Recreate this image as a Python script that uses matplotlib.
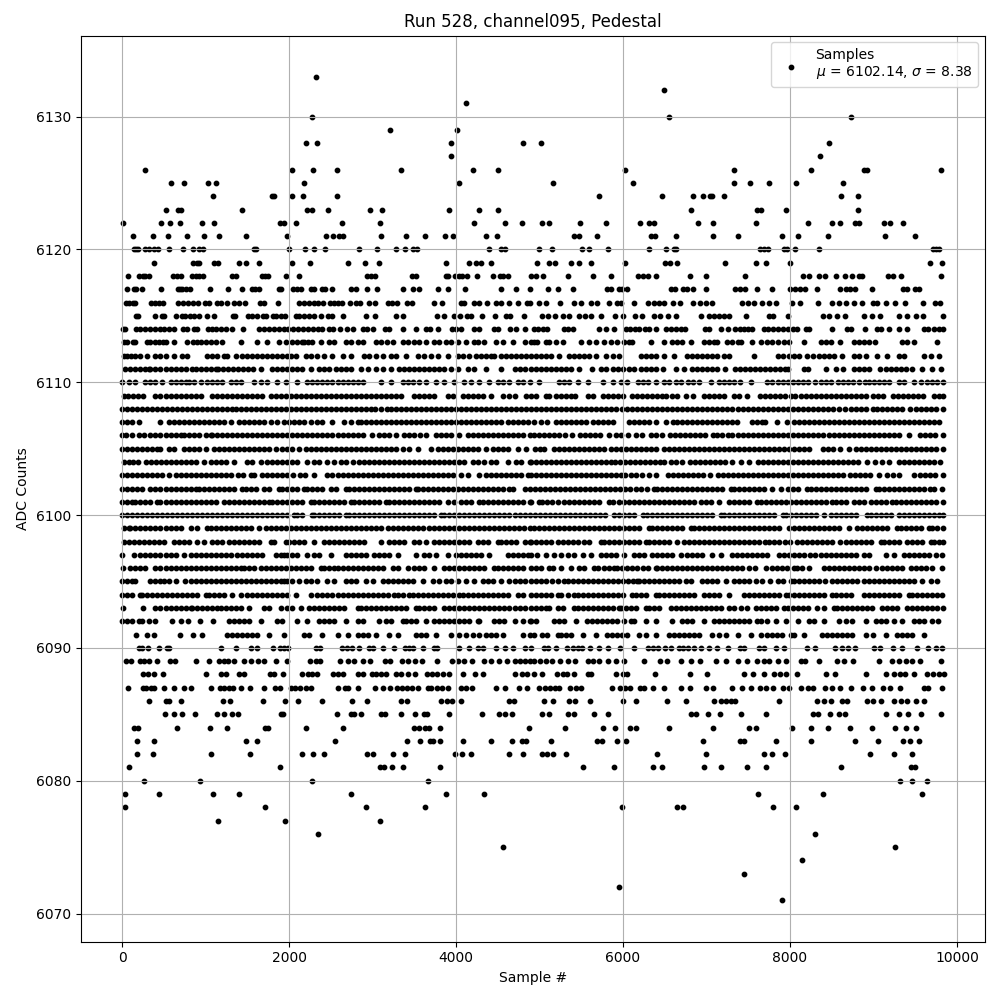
import matplotlib
matplotlib.use("Agg")
import matplotlib.pyplot as plt

s6133 = [2324]
s6132 = [6491]
s6131 = [4124]
s6130 = [2276, 6551, 8729]
s6129 = [3212, 4016]
s6128 = [2204, 2340, 3944, 4796, 5019, 8466]
s6127 = [3944, 8358]
s6126 = [272, 2036, 2288, 2576, 3344, 4208, 4508, 6024, 7329, 8251, 8885, 8921, 9807]
s6125 = [584, 740, 1028, 1124, 2180, 4040, 5162, 6120, 7329, 7520, 7748, 8071, 8634]
s6124 = [1088, 1800, 1820, 2036, 2168, 2576, 5713, 6467, 6838, 6958, 7042, 7065, 7209, 8610, 8813]
s6123 = [524, 668, 700, 1436, 2216, 2276, 2468, 2972, 3116, 3920, 4280, 4508, 6814, 7604, 7652, 7951, 8813]
s6122 = [8, 464, 572, 692, 956, 1100, 1892, 1940, 2084, 2636, 3092, 4220, 4592, 4784, 5031, 5114, 5485, 5797, 6204, 6311, 6371, 6898, 7078, 7592, 8215, 8502, 8598, 8777, 8825, 9124, 9196, 9352]
s6121 = [128, 368, 548, 776, 980, 1160, 1484, 1976, 2444, 2528, 2600, 2648, 3104, 3404, 3632, 3872, 3968, 4364, 4496, 5414, 5474, 5689, 6335, 6383, 6635, 7078, 7377, 7903, 8095, 8454, 9136, 9495]
s6120 = [140, 164, 188, 272, 320, 380, 428, 560, 728, 848, 920, 968, 1580, 1604, 2000, 2192, 2300, 2432, 2840, 3056, 3284, 3392, 3488, 3536, 4400, 4544, 4592, 4995, 5150, 5509, 5593, 5821, 6311, 6515, 6611, 6635, 7640, 7688, 7736, 7927, 7963, 8059, 8346, 9711, 9747, 9783]
s6119 = [380, 848, 896, 920, 1100, 1148, 1400, 1484, 1640, 2036, 2252, 2708, 2912, 3080, 3884, 4160, 4244, 4304, 4424, 4971, 5114, 5186, 5378, 5474, 5617, 6024, 6503, 6563, 6647, 7221, 7592, 7712, 7999, 9675, 9819]
s6118 = [68, 200, 248, 272, 320, 608, 656, 704, 836, 884, 920, 968, 1316, 1364, 1676, 1712, 1748, 1964, 2120, 2936, 2984, 3032, 3476, 3524, 3884, 3908, 3992, 4040, 4076, 4136, 4256, 4448, 4532, 4568, 4628, 4892, 4955, 5043, 5342, 5641, 5857, 6180, 6240, 6300, 6395, 6802, 6994, 7461, 8155, 8227, 8346, 8418, 8550, 8658, 8741, 8825, 8861, 9172, 9232, 9328, 9807]
s6117 = [56, 140, 164, 244, 464, 668, 692, 716, 764, 812, 1052, 1268, 1436, 1556, 1592, 1640, 1880, 1904, 2048, 2096, 2144, 2264, 2300, 2396, 2432, 2516, 2744, 2804, 2936, 3056, 3368, 3488, 3560, 3788, 3908, 4112, 4544, 4712, 4880, 5102, 5222, 5402, 5809, 5857, 5952, 5988, 6048, 6575, 6623, 6719, 6766, 6838, 6994, 7341, 7401, 7461, 7604, 7784, 7999, 8059, 8119, 8179, 8322, 8598, 8670, 8717, 8777, 8981, 9352, 9400, 9495, 9543]
s6116 = [44, 80, 128, 152, 344, 392, 440, 488, 668, 728, 788, 848, 908, 992, 1040, 1136, 1184, 1256, 1340, 1400, 1472, 1652, 1700, 1868, 2120, 2180, 2240, 2300, 2348, 2408, 2492, 2540, 2588, 2636, 2732, 2804, 2852, 2960, 3032, 3188, 3236, 3296, 3416, 3476, 3740, 3836, 4064, 4100, 4220, 4280, 4376, 4484, 4544, 4640, 4736, 4844, 4880, 4995, 5079, 5246, 5414, 5498, 5617, 5689, 5833, 5928, 5976, 6132, 6300, 6371, 6431, 6491, 6599, 6683, 6838, 6922, 6994, 7066, 7425, 7496, 7568, 7664, 7748, 7832, 8023, 8119, 8334, 8502, 8586, 8670, 8766, 8861, 8993, 9041, 9148, 9256, 9376, 9591, 9735, 9795]
s6115 = [164, 188, 392, 476, 500, 644, 716, 752, 812, 860, 920, 1016, 1100, 1328, 1352, 1508, 1556, 1616, 1688, 1724, 1808, 1844, 1904, 1952, 2084, 2120, 2180, 2240, 2300, 2384, 2468, 2516, 2648, 2924, 3032, 3284, 3368, 3776, 3860, 3980, 4052, 4136, 4184, 4316, 4472, 4604, 4652, 4808, 5031, 5102, 5186, 5282, 5354, 5474, 5545, 5617, 5737, 5904, 6000, 6144, 6228, 6371, 6443, 6539, 6635, 6934, 7030, 7090, 7150, 7210, 7270, 7473, 7748, 7796, 7975, 8394, 8466, 8562, 8658, 8885, 8981, 9077, 9304, 9400, 9507, 9591, 9831]
s6114 = [10, 40, 170, 220, 270, 340, 400, 460, 500, 560, 620, 730, 780, 860, 900, 1030, 1080, 1130, 1190, 1240, 1320, 1450, 1640, 1700, 1760, 1820, 1880, 1940, 1990, 2050, 2110, 2170, 2230, 2290, 2350, 2400, 2480, 2530, 2610, 2690, 2760, 2880, 2930, 3000, 3150, 3200, 3360, 3520, 3640, 3690, 3780, 3950, 4000, 4060, 4220, 4270, 4450, 4500, 4650, 4720, 4820, 4930, 4980, 5040, 5090, 5290, 5340, 5400, 5710, 5800, 5890, 6030, 6080, 6140, 6190, 6260, 6310, 6400, 6510, 6570, 6640, 6700, 6740, 6980, 7030, 7170, 7260, 7340, 7400, 7450, 7500, 7550, 7690, 7740, 7800, 7860, 7920, 7980, 8040, 8080, 8190, 8230, 8500, 8680, 8730, 8900, 9040, 9090, 9190, 9300, 9400, 9600, 9650, 9720, 9780, 9830]
s6113 = [20, 60, 130, 160, 300, 340, 400, 440, 490, 530, 620, 780, 850, 900, 950, 1010, 1070, 1130, 1200, 1430, 1620, 1730, 1880, 1960, 2040, 2100, 2160, 2180, 2230, 2280, 2380, 2480, 2540, 2680, 2740, 2820, 2880, 3040, 3100, 3170, 3240, 3360, 3430, 3500, 3560, 3640, 3740, 3800, 3880, 3940, 4020, 4120, 4220, 4260, 4340, 4480, 4560, 4680, 4820, 4900, 4935, 4975, 5075, 5115, 5195, 5275, 5494, 5593, 5673, 5773, 5853, 5933, 6012, 6072, 6112, 6331, 6491, 6591, 6651, 6711, 6810, 6970, 7030, 7090, 7130, 7250, 7310, 7380, 7410, 7550, 7650, 7730, 7790, 7850, 7930, 7990, 8165, 8370, 8430, 8490, 8600, 8765, 8825, 8885, 8945, 9015, 9345, 9405, 9485, 9760]
s6112 = [20, 60, 110, 160, 210, 300, 400, 460, 520, 620, 720, 780, 1020, 1080, 1140, 1220, 1260, 1360, 1440, 1500, 1560, 1620, 1680, 1740, 1800, 1860, 1920, 1980, 2020, 2080, 2200, 2260, 2340, 2420, 2520, 2640, 2740, 2900, 2960, 3040, 3120, 3220, 3280, 3400, 3540, 3620, 3700, 3780, 3900, 4020, 4080, 4160, 4240, 4300, 4360, 4420, 4460, 4540, 4600, 4660, 4720, 4780, 4840, 4895, 4960, 5015, 5075, 5135, 5235, 5355, 5415, 5475, 5535, 5595, 5675, 5795, 5875, 5955, 6210, 6270, 6330, 6390, 6490, 6610, 6770, 6830, 6890, 6950, 7000, 7060, 7120, 7215, 7275, 7565, 7850, 7910, 7990, 8050, 8110, 8205, 8280, 8345, 8405, 8465, 8525, 8625, 8765, 8825, 8905, 9045, 9165, 9305, 9365, 9605, 9685, 9785]
s6111 = [30, 90, 150, 210, 270, 320, 340, 400, 460, 520, 580, 640, 700, 760, 840, 880, 940, 1000, 1060, 1120, 1150, 1210, 1270, 1330, 1390, 1450, 1510, 1570, 1660, 1800, 1860, 1920, 1980, 2040, 2100, 2160, 2260, 2360, 2420, 2480, 2560, 2620, 2680, 2740, 2860, 2940, 3040, 3120, 3220, 3320, 3380, 3440, 3500, 3560, 3620, 3680, 3740, 3800, 3860, 3940, 4020, 4140, 4220, 4360, 4540, 4700, 4760, 4820, 4900, 4955, 5015, 5075, 5135, 5195, 5255, 5315, 5375, 5475, 5625, 5735, 5795, 5875, 5935, 5995, 6075, 6135, 6215, 6275, 6335, 6395, 6475, 6630, 6735, 6830, 6890, 6950, 7010, 7070, 7130, 7220, 7340, 7400, 7460, 7520, 7580, 7640, 7700, 7760, 7820, 7880, 7940, 7980, 8170, 8220, 8425, 8545, 8635, 8765, 8825, 8885, 8945, 9075, 9145, 9205, 9265, 9325, 9385, 9460, 9585, 9700, 9805]
s6110 = [0, 80, 150, 280, 340, 400, 480, 580, 640, 700, 760, 800, 860, 940, 1020, 1080, 1140, 1200, 1300, 1360, 1420, 1580, 1660, 1740, 1860, 1960, 2100, 2220, 2280, 2340, 2400, 2460, 2520, 2580, 2640, 2700, 2760, 2820, 2880, 3100, 3220, 3360, 3420, 3480, 3560, 3640, 3760, 3860, 3980, 4100, 4180, 4280, 4400, 4500, 4560, 4640, 4740, 4800, 4880, 4995, 5235, 5295, 5355, 5455, 5575, 5765, 5875, 5975, 6050, 6175, 6235, 6295, 6390, 6495, 6555, 6630, 6695, 6775, 6835, 6910, 7055, 7150, 7210, 7270, 7330, 7400, 7530, 7730, 7790, 7850, 7910, 7970, 8030, 8090, 8150, 8220, 8295, 8370, 8430, 8490, 8570, 8640, 8690, 8760, 8830, 8900, 8945, 9005, 9065, 9125, 9185, 9305, 9365, 9480, 9565, 9645, 9705, 9765, 9830]
s6109 = [20, 70, 130, 190, 250, 400, 460, 520, 580, 640, 700, 760, 820, 880, 950, 1080, 1140, 1200, 1260, 1320, 1380, 1440, 1500, 1560, 1620, 1670, 1780, 1840, 1900, 1960, 2020, 2080, 2140, 2200, 2260, 2320, 2380, 2440, 2500, 2560, 2620, 2680, 2740, 2800, 2860, 2920, 2980, 3040, 3100, 3160, 3220, 3280, 3340, 3500, 3560, 3620, 3680, 3730, 3900, 3960, 4080, 4140, 4200, 4260, 4320, 4420, 4560, 4640, 4700, 4840, 4900, 4955, 5075, 5115, 5195, 5255, 5315, 5375, 5420, 5575, 5635, 5755, 5815, 5875, 5935, 6000, 6110, 6170, 6230, 6290, 6350, 6410, 6470, 6510, 6590, 6650, 6750, 6840, 6970, 7030, 7090, 7150, 7210, 7330, 7390, 7490, 7640, 7700, 7760, 7820, 7880, 7940, 8010, 8060, 8130, 8190, 8250, 8310, 8370, 8430, 8490, 8550, 8610, 8670, 8730, 8790, 8850, 8910, 8990, 9050, 9110, 9235, 9295, 9355, 9415, 9475, 9535, 9595, 9720, 9780, 9830]
s6108 = [0, 60, 120, 180, 240, 300, 360, 420, 480, 540, 600, 660, 720, 780, 840, 900, 960, 1020, 1080, 1140, 1200, 1260, 1320, 1360, 1420, 1480, 1540, 1600, 1660, 1720, 1780, 1840, 1900, 1960, 2020, 2080, 2140, 2200, 2260, 2320, 2380, 2440, 2500, 2560, 2620, 2680, 2740, 2800, 2860, 2920, 2980, 3030, 3100, 3170, 3220, 3280, 3340, 3400, 3460, 3520, 3580, 3640, 3700, 3760, 3820, 3880, 3940, 4000, 4060, 4120, 4180, 4240, 4300, 4360, 4420, 4480, 4540, 4600, 4660, 4720, 4780, 4840, 4900, 4960, 5020, 5080, 5140, 5200, 5260, 5320, 5380, 5440, 5500, 5560, 5620, 5680, 5740, 5800, 5860, 5915, 5985, 6050, 6110, 6170, 6230, 6290, 6350, 6410, 6470, 6530, 6590, 6650, 6710, 6770, 6830, 6890, 6950, 7010, 7070, 7130, 7190, 7250, 7310, 7380, 7440, 7500, 7560, 7620, 7680, 7740, 7800, 7860, 7920, 7980, 8040, 8100, 8160, 8220, 8280, 8340, 8400, 8460, 8520, 8590, 8653, 8725, 8785, 8845, 8905, 8995, 9045, 9105, 9165, 9225, 9285, 9345, 9435, 9505, 9565, 9625, 9685, 9745, 9830]
s6107 = [0, 60, 120, 200, 460, 560, 620, 680, 740, 800, 860, 920, 980, 1040, 1100, 1160, 1220, 1300, 1400, 1460, 1520, 1580, 1640, 1700, 1780, 1860, 1940, 2000, 2060, 2120, 2180, 2260, 2340, 2400, 2520, 2660, 2740, 2820, 2860, 2920, 2980, 3040, 3100, 3160, 3220, 3280, 3340, 3400, 3460, 3520, 3580, 3640, 3700, 3760, 3820, 3880, 3940, 4000, 4060, 4120, 4180, 4240, 4300, 4360, 4420, 4480, 4540, 4620, 4680, 4740, 4800, 4860, 4935, 5015, 5095, 5195, 5255, 5315, 5375, 5435, 5495, 5555, 5640, 5700, 5760, 5820, 5880, 6070, 6130, 6190, 6250, 6310, 6390, 6510, 6600, 6650, 6710, 6770, 6830, 6890, 6950, 7010, 7070, 7130, 7190, 7250, 7310, 7370, 7540, 7600, 7660, 7700, 7840, 7960, 8050, 8110, 8170, 8230, 8290, 8350, 8410, 8470, 8530, 8590, 8650, 8710, 8770, 8830, 8890, 8950, 9010, 9070, 9130, 9190, 9250, 9310, 9370, 9430, 9490, 9550, 9610, 9670, 9730, 9790]
s6106 = [0, 50, 120, 200, 260, 330, 400, 460, 520, 580, 640, 700, 740, 800, 860, 920, 1000, 1060, 1080, 1140, 1200, 1260, 1320, 1380, 1440, 1500, 1560, 1620, 1680, 1740, 1800, 1860, 1920, 1980, 2040, 2100, 2160, 2220, 2280, 2332, 2400, 2460, 2520, 2580, 2640, 2700, 2760, 2820, 2880, 2990, 3080, 3140, 3200, 3280, 3380, 3440, 3500, 3570, 3640, 3760, 3820, 3880, 3940, 4040, 4140, 4200, 4260, 4320, 4380, 4440, 4500, 4560, 4620, 4680, 4740, 4800, 4880, 4930, 4990, 5050, 5110, 5170, 5230, 5300, 5390, 5480, 5540, 5600, 5660, 5720, 5830, 5920, 5980, 6060, 6150, 6230, 6340, 6400, 6470, 6560, 6620, 6680, 6740, 6800, 6860, 6920, 6980, 7075, 7120, 7190, 7260, 7300, 7380, 7440, 7500, 7560, 7620, 7680, 7740, 7800, 7860, 7920, 7980, 8040, 8100, 8160, 8220, 8280, 8340, 8400, 8470, 8530, 8590, 8650, 8710, 8770, 8830, 8890, 8950, 9010, 9070, 9130, 9190, 9250, 9310, 9420, 9560, 9620, 9680, 9740, 9830]
s6105 = [0, 60, 120, 180, 240, 300, 360, 420, 450, 560, 620, 740, 800, 860, 920, 1000, 1100, 1160, 1220, 1280, 1340, 1400, 1460, 1520, 1580, 1640, 1700, 1760, 1840, 1920, 1980, 2040, 2120, 2200, 2260, 2320, 2380, 2440, 2500, 2560, 2620, 2680, 2740, 2800, 2860, 2920, 2980, 3040, 3100, 3160, 3220, 3280, 3360, 3440, 3540, 3700, 3780, 3840, 3900, 3960, 4020, 4080, 4140, 4200, 4260, 4360, 4440, 4500, 4560, 4620, 4740, 4840, 4950, 5000, 5050, 5170, 5230, 5290, 5350, 5410, 5470, 5530, 5590, 5650, 5710, 5770, 5850, 5910, 5970, 6030, 6090, 6150, 6210, 6270, 6330, 6390, 6490, 6550, 6610, 6670, 6730, 6790, 6850, 6910, 6970, 7030, 7090, 7150, 7210, 7270, 7330, 7390, 7450, 7510, 7570, 7630, 7690, 7750, 7810, 7870, 7930, 7990, 8050, 8110, 8170, 8230, 8400, 8460, 8520, 8600, 8710, 8790, 8850, 8910, 8970, 9030, 9090, 9150, 9210, 9270, 9330, 9390, 9450, 9510, 9570, 9630, 9690, 9750, 9830]
s6104 = [20, 80, 130, 190, 290, 350, 410, 470, 530, 590, 650, 710, 770, 830, 890, 980, 1060, 1120, 1180, 1240, 1340, 1500, 1560, 1660, 1740, 1800, 1860, 1920, 1980, 2040, 2100, 2220, 2300, 2360, 2460, 2540, 2620, 2680, 2760, 2840, 2900, 2960, 3020, 3080, 3140, 3200, 3260, 3320, 3380, 3440, 3500, 3560, 3620, 3680, 3740, 3800, 3860, 3920, 3980, 4040, 4100, 4200, 4260, 4340, 4420, 4480, 4620, 4720, 4780, 4880, 4900, 4960, 5020, 5080, 5140, 5200, 5260, 5320, 5380, 5440, 5500, 5560, 5620, 5680, 5740, 5800, 5850, 5900, 5960, 6020, 6080, 6140, 6200, 6260, 6320, 6380, 6440, 6490, 6570, 6630, 6710, 6800, 6860, 6920, 6980, 7040, 7100, 7160, 7220, 7300, 7410, 7510, 7620, 7680, 7740, 7800, 7860, 7920, 7980, 8040, 8100, 8160, 8220, 8280, 8340, 8400, 8460, 8520, 8580, 8640, 8700, 8760, 8820, 8920, 9020, 9100, 9190, 9310, 9370, 9430, 9490, 9550, 9610, 9670, 9730, 9800]
s6103 = [0, 60, 120, 180, 240, 300, 360, 420, 480, 560, 640, 700, 760, 820, 880, 940, 1000, 1060, 1120, 1180, 1240, 1310, 1390, 1450, 1540, 1580, 1680, 1740, 1800, 1860, 1920, 1980, 2050, 2130, 2190, 2300, 2460, 2520, 2580, 2640, 2700, 2760, 2820, 2880, 2940, 3000, 3060, 3120, 3180, 3240, 3300, 3360, 3420, 3480, 3540, 3600, 3660, 3720, 3780, 3840, 3900, 3960, 4060, 4140, 4280, 4360, 4420, 4480, 4540, 4600, 4660, 4720, 4780, 4860, 4900, 4960, 5020, 5080, 5140, 5200, 5260, 5320, 5380, 5440, 5500, 5560, 5620, 5680, 5740, 5800, 5860, 5920, 5980, 6020, 6100, 6160, 6230, 6310, 6400, 6540, 6600, 6660, 6720, 6780, 6840, 6900, 6960, 7040, 7140, 7200, 7260, 7320, 7380, 7440, 7500, 7560, 7620, 7680, 7740, 7800, 7860, 7920, 7980, 8040, 8100, 8160, 8220, 8280, 8340, 8400, 8460, 8520, 8580, 8640, 8720, 8780, 8840, 8900, 8960, 9070, 9160, 9230, 9310, 9480, 9560, 9620, 9680, 9740, 9830]
s6102 = [0, 60, 120, 180, 240, 340, 400, 460, 520, 580, 640, 700, 760, 820, 880, 920, 980, 1040, 1100, 1160, 1220, 1280, 1340, 1440, 1480, 1540, 1600, 1700, 1760, 1880, 1920, 1980, 2040, 2100, 2180, 2220, 2280, 2340, 2400, 2500, 2560, 2680, 2720, 2780, 2840, 2900, 2960, 3020, 3080, 3140, 3200, 3260, 3320, 3380, 3440, 3520, 3540, 3600, 3660, 3720, 3780, 3840, 3900, 3960, 4020, 4080, 4140, 4200, 4260, 4320, 4380, 4440, 4500, 4560, 4640, 4680, 4820, 4880, 4940, 5000, 5060, 5120, 5180, 5240, 5300, 5360, 5420, 5480, 5540, 5600, 5660, 5720, 5780, 5840, 5900, 5960, 6020, 6080, 6150, 6210, 6290, 6370, 6410, 6470, 6530, 6590, 6650, 6710, 6770, 6830, 6890, 6950, 7010, 7070, 7130, 7190, 7290, 7330, 7390, 7450, 7510, 7570, 7630, 7690, 7790, 7890, 7970, 8030, 8090, 8200, 8250, 8310, 8370, 8430, 8490, 8550, 8610, 8670, 8730, 8790, 8850, 8910, 9025, 9065, 9125, 9185, 9245, 9305, 9365, 9425, 9485, 9545, 9605, 9680, 9725, 9820]
s6101 = [0, 60, 120, 160, 220, 280, 340, 420, 460, 520, 580, 640, 700, 760, 820, 880, 940, 1000, 1060, 1120, 1220, 1280, 1340, 1400, 1460, 1520, 1580, 1640, 1700, 1760, 1800, 1860, 1920, 1980, 2040, 2100, 2160, 2260, 2300, 2360, 2420, 2480, 2540, 2600, 2660, 2740, 2780, 2840, 2900, 2960, 3020, 3080, 3160, 3200, 3260, 3320, 3380, 3440, 3500, 3560, 3620, 3680, 3740, 3800, 3900, 3980, 4060, 4120, 4180, 4280, 4320, 4380, 4440, 4500, 4560, 4620, 4680, 4740, 4800, 4880, 4895, 4995, 5035, 5095, 5155, 5215, 5295, 5355, 5415, 5475, 5535, 5595, 5655, 5715, 5835, 5875, 5955, 6015, 6075, 6135, 6195, 6255, 6315, 6375, 6435, 6495, 6555, 6615, 6675, 6735, 6795, 6855, 6930, 6990, 7050, 7150, 7270, 7330, 7390, 7450, 7510, 7610, 7650, 7710, 7770, 7830, 7890, 7950, 8010, 8070, 8130, 8190, 8250, 8310, 8370, 8430, 8505, 8550, 8610, 8670, 8770, 8825, 8885, 8965, 9025, 9085, 9145, 9225, 9265, 9325, 9385, 9445, 9505, 9565, 9625, 9685, 9745, 9830]
s6100 = [0, 60, 120, 180, 240, 300, 360, 420, 480, 540, 600, 660, 720, 780, 840, 900, 960, 1020, 1080, 1140, 1200, 1260, 1320, 1380, 1440, 1500, 1560, 1620, 1680, 1740, 1800, 1860, 1920, 1980, 2060, 2100, 2160, 2280, 2300, 2360, 2420, 2480, 2540, 2600, 2680, 2720, 2780, 2840, 2900, 2960, 3020, 3080, 3140, 3200, 3260, 3320, 3380, 3440, 3500, 3560, 3620, 3680, 3740, 3820, 3860, 3920, 3980, 4040, 4100, 4160, 4220, 4280, 4340, 4400, 4460, 4520, 4580, 4640, 4700, 4760, 4820, 4880, 4940, 5000, 5060, 5120, 5180, 5240, 5300, 5360, 5420, 5480, 5540, 5600, 5660, 5720, 5780, 5895, 5955, 6015, 6075, 6135, 6235, 6290, 6350, 6410, 6470, 6530, 6590, 6650, 6710, 6770, 6830, 6890, 6950, 7010, 7070, 7170, 7210, 7270, 7330, 7390, 7450, 7510, 7570, 7630, 7690, 7750, 7810, 7910, 7950, 8010, 8070, 8130, 8190, 8250, 8310, 8405, 8490, 8550, 8610, 8670, 8730, 8790, 8925, 8965, 9025, 9085, 9145, 9205, 9305, 9365, 9425, 9485, 9545, 9605, 9665, 9725, 9785, 9830]
s6099 = [20, 80, 100, 160, 220, 280, 340, 400, 460, 520, 580, 640, 700, 820, 900, 1020, 1060, 1120, 1180, 1240, 1300, 1360, 1420, 1480, 1540, 1640, 1720, 1780, 1840, 1900, 1960, 2020, 2080, 2140, 2200, 2260, 2320, 2380, 2440, 2500, 2560, 2620, 2680, 2740, 2800, 2860, 2920, 2980, 3040, 3100, 3180, 3250, 3310, 3370, 3430, 3490, 3550, 3610, 3670, 3730, 3790, 3850, 3910, 3970, 4030, 4090, 4150, 4210, 4270, 4330, 4390, 4450, 4510, 4570, 4630, 4690, 4750, 4810, 4880, 4935, 4995, 5055, 5115, 5175, 5235, 5295, 5355, 5415, 5475, 5535, 5595, 5655, 5715, 5775, 5835, 5895, 5955, 6015, 6075, 6135, 6195, 6310, 6350, 6410, 6470, 6530, 6590, 6650, 6710, 6810, 6850, 6910, 6970, 7030, 7090, 7150, 7210, 7270, 7330, 7390, 7450, 7510, 7570, 7630, 7690, 7750, 7810, 7870, 7990, 8050, 8110, 8170, 8230, 8290, 8350, 8410, 8470, 8530, 8590, 8705, 8805, 8865, 8925, 8985, 9045, 9105, 9165, 9285, 9325, 9385, 9445, 9505, 9565, 9660, 9705, 9765, 9830]
s6098 = [20, 80, 140, 200, 260, 320, 380, 440, 500, 620, 680, 740, 800, 900, 980, 1080, 1140, 1200, 1280, 1340, 1400, 1460, 1520, 1580, 1640, 1780, 1820, 1960, 2000, 2060, 2120, 2180, 2300, 2420, 2480, 2540, 2600, 2660, 2720, 2780, 2840, 2900, 3100, 3200, 3260, 3320, 3380, 3500, 3560, 3640, 3740, 3800, 3860, 3920, 3980, 4040, 4100, 4160, 4260, 4320, 4380, 4500, 4540, 4600, 4660, 4720, 4820, 4880, 4895, 4955, 5015, 5075, 5135, 5215, 5275, 5335, 5395, 5455, 5535, 5593, 5733, 5773, 5833, 5893, 5953, 6013, 6073, 6133, 6193, 6270, 6310, 6370, 6430, 6490, 6550, 6650, 6730, 6790, 6850, 6910, 6970, 7030, 7090, 7150, 7210, 7270, 7330, 7390, 7450, 7510, 7570, 7630, 7700, 7750, 7810, 7870, 7945, 8005, 8085, 8145, 8205, 8265, 8325, 8385, 8445, 8505, 8600, 8665, 8725, 8785, 8845, 8905, 8965, 9085, 9125, 9185, 9245, 9305, 9405, 9465, 9525, 9585, 9685, 9725, 9785, 9830]
s6097 = [0, 148, 220, 280, 340, 400, 460, 520, 580, 640, 740, 820, 880, 940, 1000, 1060, 1120, 1180, 1240, 1300, 1380, 1440, 1500, 1560, 1620, 1680, 1840, 1900, 1940, 1980, 2040, 2100, 2220, 2300, 2360, 2500, 2680, 2740, 2800, 2860, 2920, 3020, 3080, 3140, 3200, 3300, 3520, 3620, 3680, 3760, 3900, 4000, 4060, 4120, 4180, 4240, 4300, 4400, 4620, 4680, 4740, 4800, 4860, 4900, 4975, 5075, 5175, 5255, 5335, 5415, 5515, 5615, 5735, 5795, 5855, 5915, 6010, 6132, 6190, 6250, 6350, 6410, 6470, 6530, 6590, 6690, 6770, 6830, 6890, 6950, 7070, 7170, 7310, 7370, 7430, 7490, 7550, 7610, 7670, 7730, 7870, 7930, 7990, 8050, 8110, 8165, 8245, 8305, 8365, 8425, 8485, 8545, 8605, 8665, 8725, 8785, 8885, 8945, 9145, 9245, 9365, 9425, 9485, 9545, 9605, 9665, 9745, 9820]
s6096 = [8, 100, 160, 220, 280, 400, 460, 520, 580, 640, 700, 760, 820, 880, 940, 1000, 1060, 1120, 1180, 1240, 1300, 1360, 1420, 1460, 1520, 1580, 1660, 1720, 1780, 1840, 1900, 1960, 2020, 2080, 2140, 2200, 2260, 2380, 2420, 2480, 2540, 2588, 2640, 2700, 2760, 2820, 2880, 2940, 3000, 3060, 3120, 3240, 3300, 3420, 3500, 3560, 3620, 3740, 3860, 3920, 3980, 4040, 4100, 4160, 4220, 4280, 4340, 4460, 4500, 4560, 4620, 4680, 4740, 4800, 4900, 4955, 5015, 5115, 5166, 5262, 5382, 5474, 5534, 5653, 5705, 5773, 5833, 5893, 5933, 5993, 6053, 6113, 6173, 6233, 6293, 6391, 6411, 6471, 6531, 6591, 6651, 6710, 6770, 6830, 6890, 6950, 7010, 7070, 7130, 7190, 7250, 7310, 7370, 7430, 7508, 7580, 7708, 7788, 7848, 7908, 7968, 8047, 8087, 8147, 8227, 8406, 8466, 8526, 8586, 8646, 8706, 8766, 8826, 8886, 8946, 9025, 9105, 9165, 9225, 9285, 9345, 9444, 9504, 9564, 9624, 9703, 9820]
s6095 = [0, 60, 120, 160, 340, 400, 460, 500, 560, 640, 748, 820, 880, 940, 1000, 1060, 1120, 1180, 1240, 1300, 1360, 1420, 1480, 1540, 1600, 1660, 1720, 1780, 1840, 1900, 1940, 1980, 2040, 2120, 2200, 2260, 2340, 2460, 2540, 2680, 2740, 2800, 2920, 3000, 3120, 3180, 3240, 3300, 3360, 3420, 3480, 3600, 3720, 3800, 3880, 3940, 4020, 4120, 4220, 4320, 4380, 4440, 4540, 4640, 4700, 4760, 4820, 4900, 4955, 5015, 5075, 5155, 5225, 5295, 5335, 5395, 5455, 5515, 5575, 5635, 5695, 5755, 5815, 5875, 5935, 5995, 6055, 6115, 6170, 6190, 6250, 6310, 6370, 6430, 6490, 6550, 6610, 6670, 6750, 6810, 6950, 7010, 7070, 7130, 7230, 7330, 7390, 7450, 7510, 7590, 7670, 7760, 7850, 7910, 8010, 8050, 8110, 8170, 8230, 8290, 8350, 8420, 8505, 8565, 8625, 8685, 8745, 8805, 8885, 8945, 9005, 9065, 9125, 9185, 9245, 9305, 9365, 9425, 9485, 9580, 9685, 9760]
s6094 = [0, 60, 120, 220, 240, 300, 360, 420, 480, 540, 600, 660, 720, 780, 840, 900, 1000, 1040, 1100, 1160, 1220, 1320, 1420, 1500, 1560, 1620, 1680, 1740, 1800, 1860, 1920, 1980, 2080, 2260, 2340, 2400, 2460, 2520, 2580, 2640, 2700, 2760, 2820, 2880, 2940, 3000, 3060, 3120, 3180, 3260, 3300, 3360, 3440, 3480, 3540, 3600, 3660, 3720, 3780, 3840, 3900, 3960, 4040, 4080, 4140, 4200, 4260, 4320, 4380, 4440, 4500, 4560, 4620, 4740, 4800, 4900, 4955, 5015, 5075, 5135, 5215, 5255, 5335, 5415, 5455, 5515, 5575, 5635, 5695, 5755, 5815, 5875, 5935, 5995, 6112, 6150, 6210, 6270, 6390, 6431, 6491, 6551, 6611, 6671, 6731, 6791, 6851, 6970, 7030, 7090, 7150, 7270, 7450, 7510, 7570, 7630, 7690, 7750, 7810, 7870, 7950, 7990, 8050, 8110, 8170, 8230, 8290, 8350, 8410, 8505, 8545, 8605, 8665, 8725, 8885, 8945, 9005, 9065, 9125, 9185, 9245, 9305, 9425, 9465, 9525, 9585, 9645, 9705, 9765, 9825]
s6093 = [12, 248, 392, 460, 520, 580, 640, 700, 760, 820, 840, 900, 960, 1020, 1080, 1140, 1180, 1240, 1300, 1360, 1420, 1520, 1700, 1760, 1900, 1980, 2040, 2140, 2240, 2300, 2360, 2420, 2480, 2540, 2600, 2660, 2820, 2860, 2920, 2980, 3040, 3100, 3160, 3220, 3280, 3340, 3400, 3520, 3560, 3620, 3680, 3740, 3860, 3920, 3980, 4040, 4100, 4160, 4220, 4280, 4340, 4400, 4460, 4520, 4580, 4640, 4700, 4760, 4820, 4900, 4955, 5015, 5075, 5115, 5215, 5275, 5415, 5455, 5515, 5575, 5635, 5695, 5755, 5815, 5875, 5955, 5975, 6035, 6095, 6155, 6270, 6310, 6370, 6430, 6570, 6630, 6690, 6750, 6810, 6870, 6930, 6990, 7050, 7110, 7170, 7270, 7330, 7410, 7480, 7590, 7650, 7710, 7770, 7830, 7930, 7975, 8035, 8095, 8155, 8215, 8325, 8406, 8526, 8566, 8626, 8686, 8746, 8806, 8866, 8926, 8986, 9105, 9165, 9225, 9285, 9405, 9465, 9525, 9585, 9645, 9705, 9765, 9830]
s6092 = [0, 60, 120, 200, 240, 320, 400, 600, 700, 788, 928, 1088, 1280, 1340, 1400, 1460, 1520, 1660, 1860, 1920, 2100, 2220, 2360, 2420, 2480, 2540, 2680, 2820, 2880, 3080, 3160, 3220, 3360, 3400, 3460, 3520, 3640, 3740, 3800, 3860, 3920, 3980, 4040, 4100, 4160, 4260, 4280, 4460, 4520, 4580, 4700, 4800, 4880, 4895, 4955, 5175, 5235, 5295, 5434, 5573, 5633, 5693, 5753, 5813, 5873, 5933, 6012, 6092, 6132, 6280, 6400, 6590, 6710, 6770, 6830, 6970, 7090, 7150, 7210, 7270, 7330, 7390, 7450, 7510, 7610, 7650, 7730, 7830, 7947, 8100, 8226, 8286, 8406, 8586, 8665, 8745, 8905, 9025, 9085, 9145, 9245, 9345, 9485, 9545, 9605, 9705, 9770]
s6091 = [168, 300, 380, 692, 848, 952, 1260, 1320, 1380, 1440, 1500, 1560, 1620, 1760, 1940, 2180, 2240, 2400, 2580, 2708, 2820, 2880, 2940, 3040, 3200, 3300, 3520, 3580, 3640, 3760, 3940, 4040, 4120, 4200, 4280, 4360, 4420, 4480, 4560, 4800, 4880, 4930, 5035, 5095, 5215, 5255, 5315, 5375, 5515, 5673, 5813, 5873, 5933, 5993, 6053, 6192, 6271, 6391, 6551, 6611, 6671, 6731, 6791, 6851, 6911, 7070, 7150, 7230, 7377, 7528, 7648, 7728, 7788, 7848, 7908, 8007, 8047, 8167, 8386, 8446, 8506, 8566, 8626, 8686, 8746, 8905, 8993, 9144, 9284, 9344, 9404, 9464, 9603]
s6090 = [200, 236, 308, 440, 536, 560, 1184, 1364, 1544, 1616, 1808, 1892, 1940, 1988, 2324, 2372, 2636, 2696, 2756, 2840, 2960, 3008, 3128, 3260, 3392, 3440, 3488, 3608, 3740, 3776, 4040, 4160, 4268, 4328, 4484, 4592, 4676, 4820, 4895, 5055, 5102, 5198, 5330, 5402, 5462, 5510, 5605, 5713, 5821, 5964, 6128, 6300, 6359, 6419, 6503, 6575, 6671, 6718, 6778, 6850, 6934, 7030, 7125, 7257, 7401, 7449, 7628, 7688, 7832, 7927, 8203, 8298, 8538, 8622, 8693, 8777, 9005, 9077, 9232, 9340, 9519, 9651, 9747, 9819]
s6089 = [44, 104, 212, 260, 320, 416, 572, 632, 884, 1040, 1160, 1220, 1268, 1340, 1460, 1544, 1628, 1700, 1844, 1976, 2252, 2324, 2372, 2612, 2708, 2780, 2888, 2972, 3152, 3212, 3356, 3428, 3512, 3596, 3776, 3956, 4028, 4100, 4196, 4340, 4424, 4520, 4616, 4700, 4760, 4820, 4880, 4935, 5007, 5079, 5150, 5246, 5342, 5426, 5581, 5641, 5713, 5821, 5916, 6012, 6252, 6443, 6527, 6694, 6814, 6922, 7113, 7233, 7377, 7484, 7604, 7688, 7748, 7856, 7951, 8131, 8179, 8346, 8562, 8646, 8754, 9065, 9220, 9304, 9388, 9459, 9555, 9807]
s6088 = [248, 308, 380, 488, 1004, 1184, 1244, 1400, 1460, 1772, 1820, 1928, 2156, 2228, 2276, 2336, 2528, 2588, 2648, 2828, 2888, 2996, 3044, 3104, 3164, 3284, 3344, 3428, 3512, 3656, 3716, 3776, 3848, 3920, 4088, 4232, 4328, 4700, 4784, 4844, 4935, 5031, 5210, 5282, 5330, 5414, 5581, 5617, 5916, 6000, 6048, 6383, 6802, 7006, 7449, 7556, 7688, 7808, 7880, 7951, 8083, 8430, 8538, 8909, 9148, 9244, 9316, 9376, 9483, 9639, 9711, 9783, 9843]
s6087 = [68, 248, 284, 344, 380, 500, 620, 740, 824, 1064, 1172, 1220, 1280, 1328, 1424, 1532, 1700, 1832, 1892, 2024, 2072, 2132, 2204, 2264, 2588, 2672, 2708, 2828, 3032, 3128, 3212, 3296, 3356, 3416, 3476, 3548, 3668, 3704, 3776, 3836, 3908, 4064, 4124, 4196, 4484, 4592, 4748, 4844, 4995, 5067, 5126, 5186, 5234, 5366, 5438, 5497, 5868, 5964, 6024, 6084, 6204, 6252, 6359, 6491, 6694, 6802, 6994, 7078, 7305, 7425, 7532, 7640, 7712, 7796, 7916, 7987, 8131, 8215, 8274, 8418, 8502, 8598, 8729, 8873, 8981, 9112, 9196, 9316, 9603, 9651, 9819]
s6086 = [320, 524, 560, 704, 1208, 1292, 1688, 1952, 2108, 2396, 2756, 2936, 3344, 3416, 3824, 3896, 3956, 4064, 4640, 4688, 5055, 5162, 5354, 5426, 5605, 6000, 6156, 6527, 6754, 7090, 7173, 7233, 7293, 7341, 7868, 8322, 8406, 8490, 8622, 8682, 8921, 8993, 9088, 9244, 9328, 9400, 9507, 9603]
s6085 = [512, 620, 716, 872, 1136, 1220, 1316, 1388, 1904, 1928, 2576, 2744, 2780, 2864, 3104, 3152, 3344, 3512, 3620, 3656, 3920, 4316, 4520, 4592, 4664, 5027, 5114, 5342, 5414, 5653, 5821, 6814, 6874, 7018, 7161, 7413, 7712, 8274, 8334, 8478, 8586, 8658, 9148, 9304, 9412, 9567, 9807]
s6084 = [140, 188, 656, 1052, 1256, 1712, 1748, 2204, 2648, 3500, 3560, 3632, 3680, 3812, 4868, 5306, 5761, 5904, 6084, 6156, 6551, 7078, 7508, 7592, 8023, 8251, 8454, 8717, 8981, 9256, 9388, 9507]
s6083 = [176, 380, 1484, 1616, 2552, 3416, 3572, 3692, 3728, 3812, 4088, 4424, 4664, 4784, 4832, 5138, 5689, 5749, 5928, 6036, 6958, 7401, 7449, 7832, 8251, 8777, 9053, 9352, 9436, 9543]
s6082 = [176, 368, 1064, 1532, 2156, 2288, 2420, 2936, 3008, 3248, 3392, 3992, 4076, 4184, 4640, 4796, 5031, 5090, 5162, 5318, 6407, 6994, 7688, 7784, 7939, 8957, 9244, 9459]
s6081 = [80, 1892, 3092, 3140, 3236, 3368, 3812, 5521, 5893, 6359, 6467, 6970, 7173, 7484, 7712, 8610, 9448, 9495]
s6080 = [260, 932, 2276, 3668, 9316, 9459, 9639]
s6079 = [32, 440, 1088, 1400, 2744, 3884, 4340, 7616, 8394, 9579]
s6078 = [32, 1712, 2924, 3632, 5988, 6647, 6718, 7796, 8071]
s6077 = [1148, 1952, 3092]
s6076 = [2348, 8298]
s6075 = [4568, 9256]
s6074 = [8143]
s6073 = [7449]
s6072 = [5952]
s6071 = [7903]

levels = {
    6133: s6133, 6132: s6132, 6131: s6131, 6130: s6130, 6129: s6129, 6128: s6128,
    6127: s6127, 6126: s6126, 6125: s6125, 6124: s6124, 6123: s6123, 6122: s6122,
    6121: s6121, 6120: s6120, 6119: s6119, 6118: s6118, 6117: s6117, 6116: s6116,
    6115: s6115, 6114: s6114, 6113: s6113, 6112: s6112, 6111: s6111, 6110: s6110,
    6109: s6109, 6108: s6108, 6107: s6107, 6106: s6106, 6105: s6105, 6104: s6104,
    6103: s6103, 6102: s6102, 6101: s6101, 6100: s6100, 6099: s6099, 6098: s6098,
    6097: s6097, 6096: s6096, 6095: s6095, 6094: s6094, 6093: s6093, 6092: s6092,
    6091: s6091, 6090: s6090, 6089: s6089, 6088: s6088, 6087: s6087, 6086: s6086,
    6085: s6085, 6084: s6084, 6083: s6083, 6082: s6082, 6081: s6081, 6080: s6080,
    6079: s6079, 6078: s6078, 6077: s6077, 6076: s6076, 6075: s6075, 6074: s6074,
    6073: s6073, 6072: s6072, 6071: s6071,
}

xs = []
ys = []
for level, samples in levels.items():
    xs.extend(samples)
    ys.extend([level] * len(samples))

fig, ax = plt.subplots(figsize=(10, 10), dpi=100)
ax.scatter(xs, ys, s=10, c="black",
           label="Samples\n$\\mu$ = 6102.14, $\\sigma$ = 8.38")
ax.set_title("Run 528, channel095, Pedestal")
ax.set_xlabel("Sample #")
ax.set_ylabel("ADC Counts")
ax.grid(True)
ax.legend(loc="upper right")
ax.ticklabel_format(useOffset=False, axis="y")
fig.subplots_adjust(left=0.081, right=0.985, top=0.9645, bottom=0.0585)
fig.savefig("out.png", dpi=100)
